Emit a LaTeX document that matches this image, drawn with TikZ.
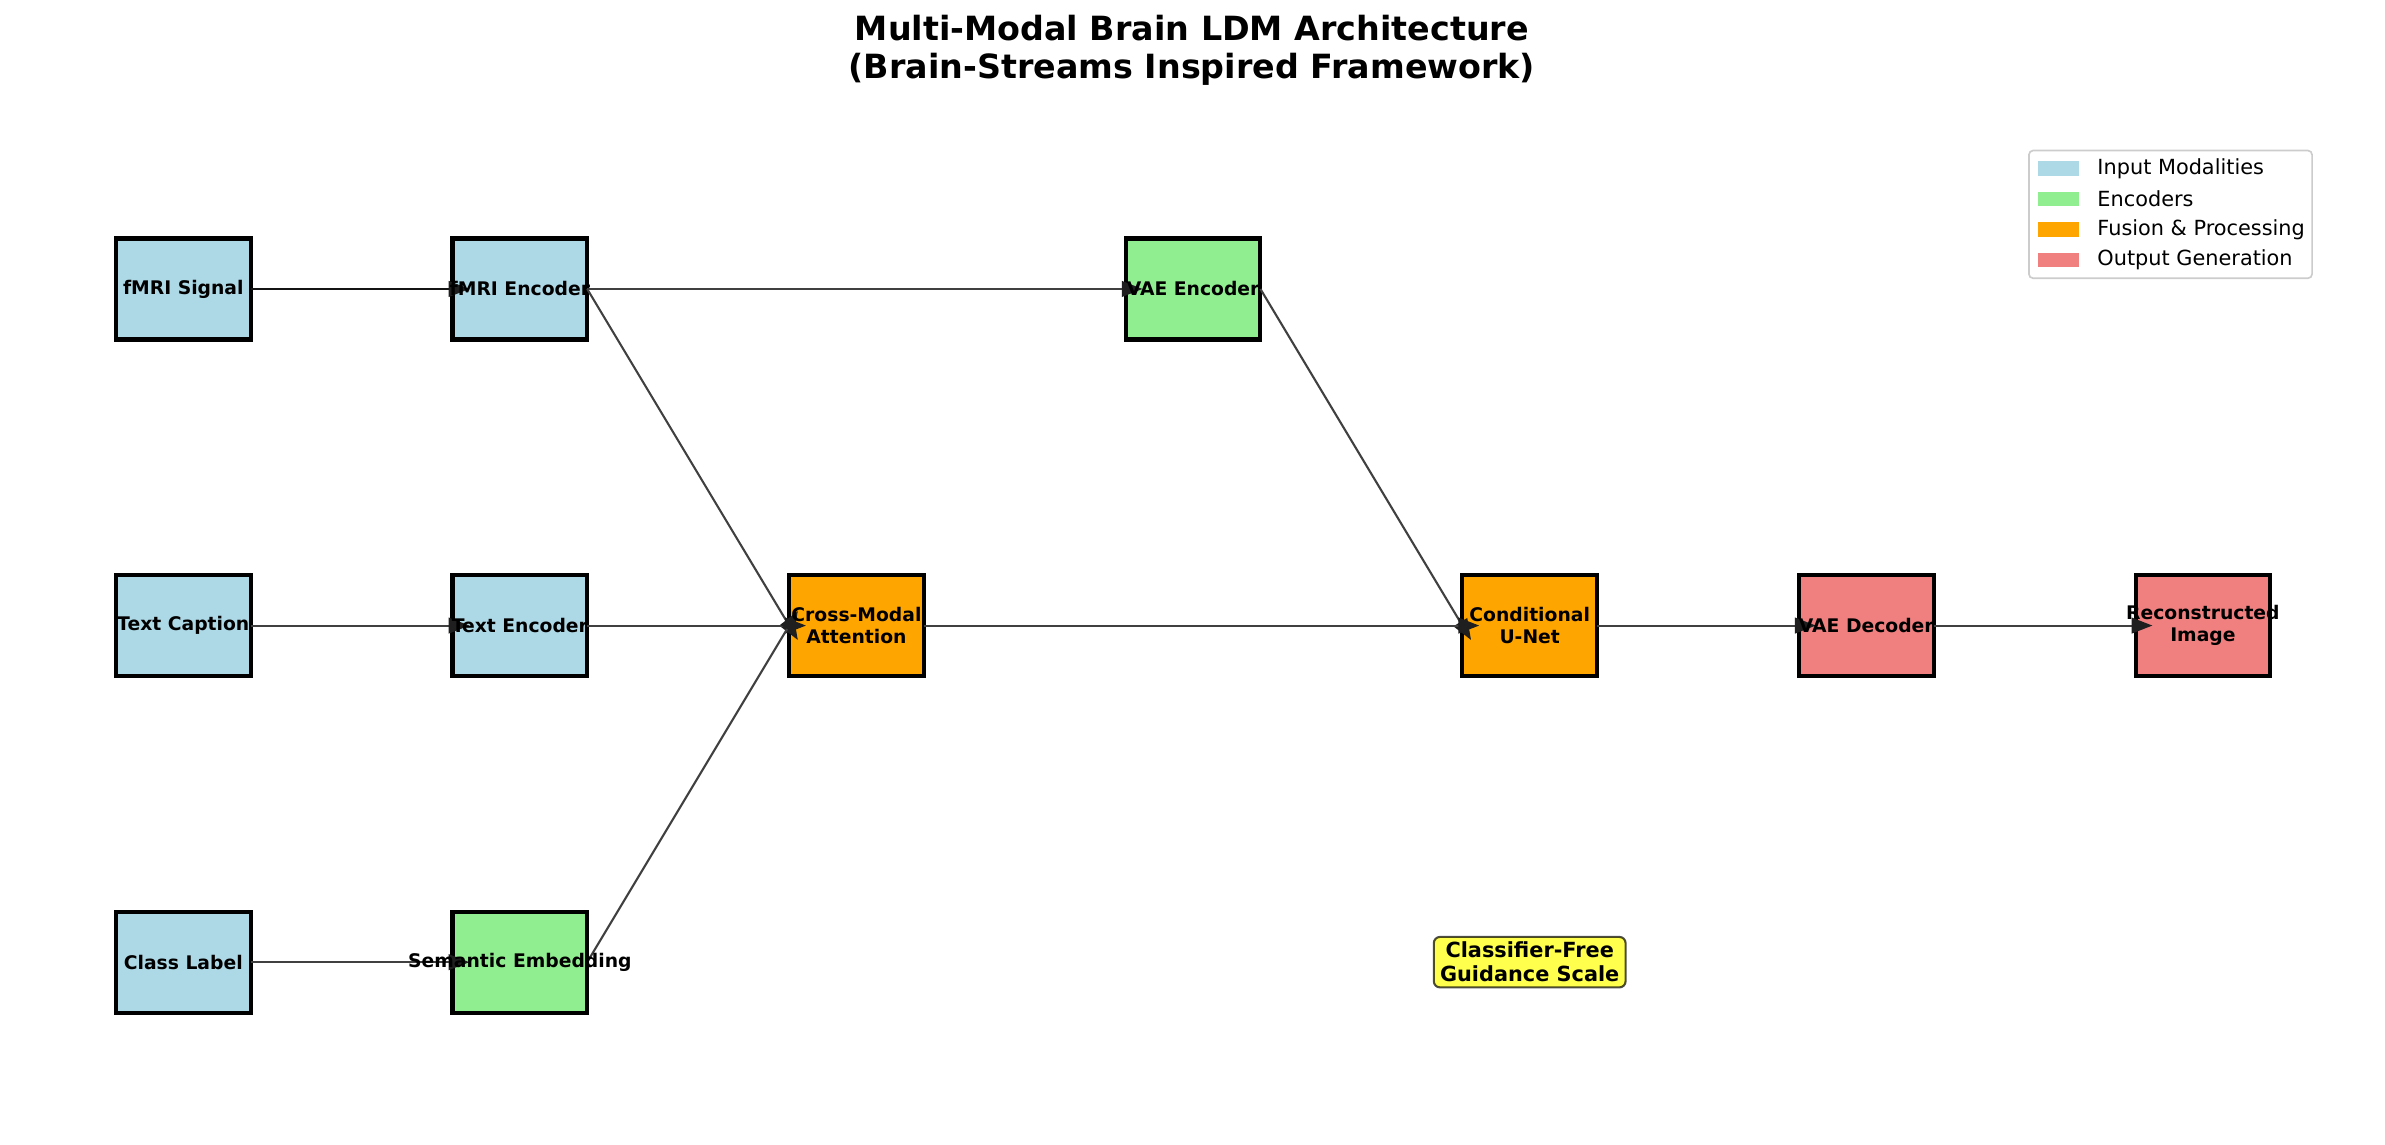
\documentclass[tikz,border=0pt]{standalone}
\usepackage{fontspec}
\setmainfont{DejaVu Sans}
\usetikzlibrary{arrows.meta}
\definecolor{inputblue}{HTML}{ADD8E6}
\definecolor{encgreen}{HTML}{90EE90}
\definecolor{fuseorange}{HTML}{FFA500}
\definecolor{outred}{HTML}{F08080}
\definecolor{guideyellow}{HTML}{FFFF4D}

\begin{document}
\begin{tikzpicture}[x=80.78pt, y=80.78pt,
	stage/.style={draw=black, line width=2pt, minimum width=64.62pt, minimum height=48.47pt, inner sep=0pt, outer sep=0pt},
	lbl/.style={font=\fontsize{9}{10.5}\selectfont\bfseries, align=center, inner sep=0pt},
	flow/.style={-{Triangle[length=10pt,width=7.5pt,color=black!88]}, line width=1pt, draw=black!75, shorten >=-8.08pt},
	guide/.style={draw=black, draw opacity=0.7, fill=guideyellow, line width=1pt, rounded corners=3pt, font=\fontsize{10}{11.5}\selectfont\bfseries, align=center, inner xsep=3pt, inner ysep=2.5pt},
	swatch/.style={minimum width=19.76pt, minimum height=7pt, inner sep=0pt}]
	
	\useasboundingbox (-1.089,-1.086) rectangle (13.082,5.717);
	
	\node[font=\fontsize{16}{18.3}\selectfont\bfseries, align=center] (title) at (5.993,5.418) {Multi-Modal Brain LDM Architecture\\(Brain-Streams Inspired Framework)};
	
	% input modalities
	\node[stage, fill=inputblue] (fsig) at (0,4) {};
	\node[stage, fill=inputblue] (tcap) at (0,2) {};
	\node[stage, fill=inputblue] (clab) at (0,0) {};
	% encoders
	\node[stage, fill=inputblue] (fenc) at (2,4) {};
	\node[stage, fill=inputblue] (tenc) at (2,2) {};
	\node[stage, fill=encgreen] (semb) at (2,0) {};
	\node[stage, fill=encgreen] (venc) at (6,4) {};
	% fusion and output
	\node[stage, fill=fuseorange] (cross) at (4,2) {};
	\node[stage, fill=fuseorange] (unet) at (8,2) {};
	\node[stage, fill=outred] (vdec) at (10,2) {};
	\node[stage, fill=outred] (recon) at (12,2) {};
	
	\draw[flow, draw=black!92] (fsig.east) -- (fenc.west);
	\draw[flow] (tcap.east) -- (tenc.west);
	\draw[flow] (clab.east) -- (semb.west);
	\draw[flow] (fenc.east) -- (cross.west);
	\draw[flow] (tenc.east) -- (cross.west);
	\draw[flow] (semb.east) -- (cross.west);
	\draw[flow] (fenc.east) -- (venc.west);
	\draw[flow] (venc.east) -- (unet.west);
	\draw[flow] (cross.east) -- (unet.west);
	\draw[flow] (unet.east) -- (vdec.west);
	\draw[flow] (vdec.east) -- (recon.west);
	
	\node[lbl] (fsig-t) at (fsig) {fMRI Signal};
	\node[lbl] (tcap-t) at (tcap) {Text Caption};
	\node[lbl] (clab-t) at (clab) {Class Label};
	\node[lbl] (fenc-t) at (fenc) {fMRI Encoder};
	\node[lbl] (tenc-t) at (tenc) {Text Encoder};
	\node[lbl] (semb-t) at (semb) {Semantic Embedding};
	\node[lbl] (venc-t) at (venc) {VAE Encoder};
	\node[lbl] (cross-t) at (cross) {Cross-Modal\\Attention};
	\node[lbl] (unet-t) at (unet) {Conditional\\U-Net};
	\node[lbl] (vdec-t) at (vdec) {VAE Decoder};
	\node[lbl] (recon-t) at (recon) {Reconstructed\\Image};
	
	\node[guide] (cfg) at (8,0) {Classifier-Free\\Guidance Scale};
	
	% legend
	\node[draw=black!20, fill=white, line width=0.8pt, rounded corners=2pt, minimum width=135.9pt, minimum height=61.3pt, inner sep=0pt] (legend) at (11.8075,4.443) {};
	\foreach \c/\t [count=\i] in {inputblue/Input Modalities, encgreen/Encoders, fuseorange/Fusion \& Processing, outred/Output Generation}{
		\node[swatch, fill=\c] (sw\i) at (11.142,4.8946-0.1806*\i) {};
		\node[anchor=west, inner sep=0pt, font=\fontsize{10}{12}\selectfont] (lg\i) at (11.371,4.8946-0.1806*\i) {\t};
	}
\end{tikzpicture}
\end{document}
